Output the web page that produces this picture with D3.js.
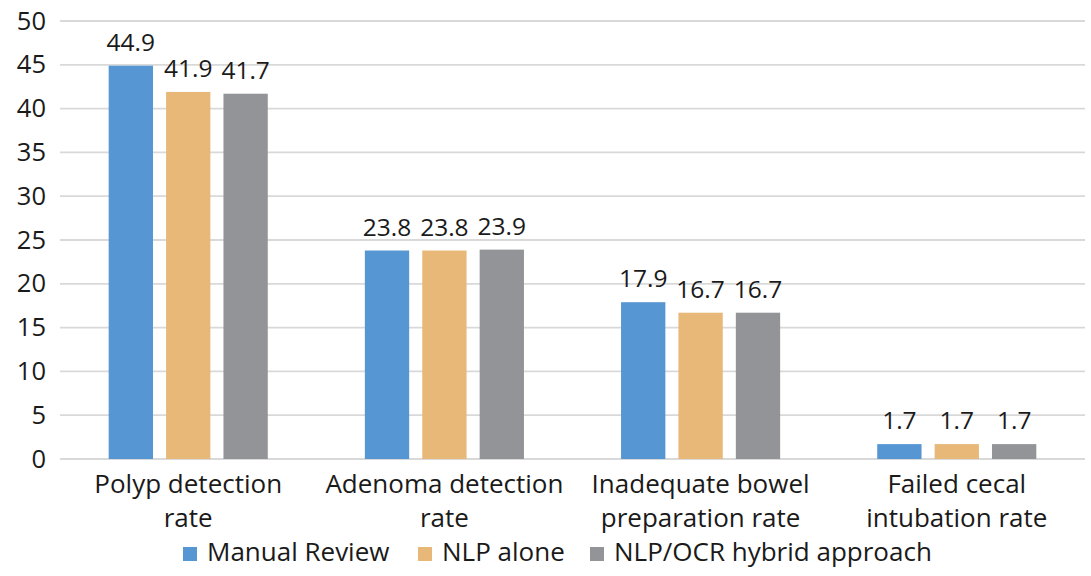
<!DOCTYPE html>
<html>
<head>
<meta charset="utf-8">
<script src="https://cdn.jsdelivr.net/npm/d3@7"></script>
<style>
  html, body { margin: 0; padding: 0; background: #fff; }
  svg { display: block; font-family: "Open Sans", sans-serif; }
</style>
</head>
<body>
<div id="chart"></div>
<script>
const categories = [
  ["Polyp detection", "rate"],
  ["Adenoma detection", "rate"],
  ["Inadequate bowel", "preparation rate"],
  ["Failed cecal", "intubation rate"]
];
const seriesNames = ["Manual Review", "NLP alone", "NLP/OCR hybrid approach"];
const manualReview = [44.9, 23.8, 17.9, 1.7];
const nlpAlone = [41.9, 23.8, 16.7, 1.7];
const nlpOcrHybrid = [41.7, 23.9, 16.7, 1.7];
const yTicks = [0, 5, 10, 15, 20, 25, 30, 35, 40, 45, 50];
const colors = ["#5596d3", "#e8b878", "#929497"];

const seriesValues = [manualReview, nlpAlone, nlpOcrHybrid];
const rows = categories.map((c, i) => ({
  key: i,
  label: c,
  values: seriesNames.map((s, j) => ({ series: s, value: seriesValues[j][i] }))
}));

const width = 1091, height = 576;
const svg = d3.select("#chart").append("svg").attr("width", width).attr("height", height);

const x0 = d3.scaleBand().domain(rows.map(d => d.key)).range([60, 1085])
  .paddingInner(0.379).paddingOuter(0.19);
const x1 = d3.scaleBand().domain(seriesNames).range([0, x0.bandwidth()]).paddingInner(0.228);
const y = d3.scaleLinear().domain([0, 50]).range([459, 21]);
const color = d3.scaleOrdinal().domain(seriesNames).range(colors);

// gridlines
svg.append("g").selectAll("line").data(yTicks).join("line")
  .attr("x1", 60).attr("x2", 1085)
  .attr("y1", d => y(d)).attr("y2", d => y(d))
  .attr("stroke", "#d9d9d9").attr("stroke-width", 1.8);

// y axis labels
const yAxis = svg.append("g").attr("transform", "translate(60,0)")
  .call(d3.axisLeft(y).tickValues(yTicks).tickSize(0).tickPadding(14));
yAxis.select(".domain").remove();
yAxis.selectAll("text").attr("font-size", 25.5).attr("fill", "#1a1a1a")
  .attr("font-family", "'Open Sans', sans-serif");

// bars
const groups = svg.append("g").selectAll("g").data(rows).join("g")
  .attr("transform", d => `translate(${x0(d.key)},0)`);

groups.selectAll("rect").data(d => d.values).join("rect")
  .attr("x", d => x1(d.series))
  .attr("width", x1.bandwidth())
  .attr("y", d => y(d.value))
  .attr("height", d => y(0) - y(d.value))
  .attr("fill", d => color(d.series));

groups.selectAll("text.val").data(d => d.values).join("text")
  .attr("class", "val")
  .attr("x", d => x1(d.series) + x1.bandwidth() / 2)
  .attr("y", d => y(d.value) - 15)
  .attr("text-anchor", "middle")
  .attr("font-size", 24.5).attr("fill", "#1a1a1a")
  .text(d => d.value.toFixed(1));

// category labels
const catLabels = svg.append("g").selectAll("text").data(rows).join("text")
  .attr("x", d => x0(d.key) + x0.bandwidth() / 2)
  .attr("y", 493)
  .attr("text-anchor", "middle")
  .attr("font-size", 26).attr("fill", "#1a1a1a");
catLabels.selectAll("tspan").data(d => d.label).join("tspan")
  .attr("x", function() { return this.parentNode.getAttribute("x"); })
  .attr("dy", (d, i) => i === 0 ? 0 : 34)
  .text(d => d);

// legend
const legendX = [183, 418, 590];
const legend = svg.append("g").selectAll("g").data(seriesNames).join("g")
  .attr("transform", (d, i) => `translate(${legendX[i]},554)`);
legend.append("rect").attr("x", 0).attr("y", -7).attr("width", 14).attr("height", 14)
  .attr("fill", d => color(d));
legend.append("text").attr("x", 24).attr("y", 7)
  .attr("font-size", 26).attr("fill", "#1a1a1a").text(d => d);
</script>
</body>
</html>
